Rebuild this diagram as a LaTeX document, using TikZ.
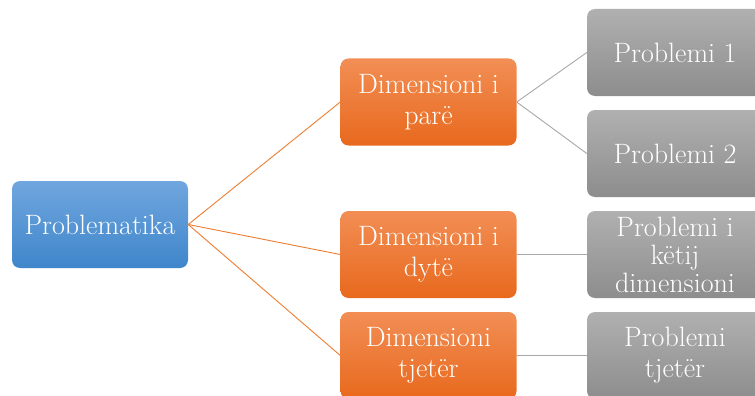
\documentclass[tikz,border=0pt]{standalone}
\usepackage{tikz}
\usetikzlibrary{shapes,positioning}
\definecolor{bluetop}{HTML}{70A6DE}
\definecolor{bluebot}{HTML}{3F86CB}
\definecolor{orangetop}{HTML}{F28E55}
\definecolor{orangebot}{HTML}{E8691D}
\definecolor{greytop}{HTML}{B0B0B0}
\definecolor{greybot}{HTML}{8D8D8D}
\definecolor{orangeline}{HTML}{ED7D31}
\definecolor{greyline}{HTML}{A8A8A8}
\tikzstyle{blueblock}=[rectangle, rounded corners=8pt, align=center, top color=bluetop, bottom color=bluebot, text=white, minimum width=176pt, minimum height=87pt, inner sep=1pt, font=\fontsize{28}{31}\selectfont]
\tikzstyle{orangeblock}=[blueblock, top color=orangetop, bottom color=orangebot]
\tikzstyle{greyblock}=[blueblock, top color=greytop, bottom color=greybot]
\tikzstyle{orangelink}=[draw=orangeline, line width=0.9pt]
\tikzstyle{greylink}=[draw=greyline, line width=0.9pt]

\begin{document}
\begin{tikzpicture}[x=1pt, y=-1pt]

\clip (0,0) rectangle (755,396);

\node[blueblock](prob) at (100,224.5) {Problematika};
\node[orangeblock](d1) at (428.5,102) {Dimensioni i \\ parë};
\node[orangeblock](d2) at (428.5,254.5) {Dimensioni i \\ dytë};
\node[orangeblock](d3) at (428.5,355.5) {Dimensioni \\ tjetër};
\node[greyblock](p1) at (675,52.5) {Problemi 1};
\node[greyblock](p2) at (675,153.5) {Problemi 2};
\node[greyblock, font=\fontsize{28}{28}\selectfont](p3) at (675,254.5) {Problemi i \\ këtij \\ dimensioni};
\node[greyblock](p4) at (675,355.5) {Problemi \\ tjetër};

\draw[orangelink](prob.east) -- (d1.west);
\draw[orangelink](prob.east) -- (d2.west);
\draw[orangelink](prob.east) -- (d3.west);
\draw[greylink](d1.east) -- (p1.west);
\draw[greylink](d1.east) -- (p2.west);
\draw[greylink](d2.east) -- (p3.west);
\draw[greylink](d3.east) -- (p4.west);

\end{tikzpicture}
\end{document}
